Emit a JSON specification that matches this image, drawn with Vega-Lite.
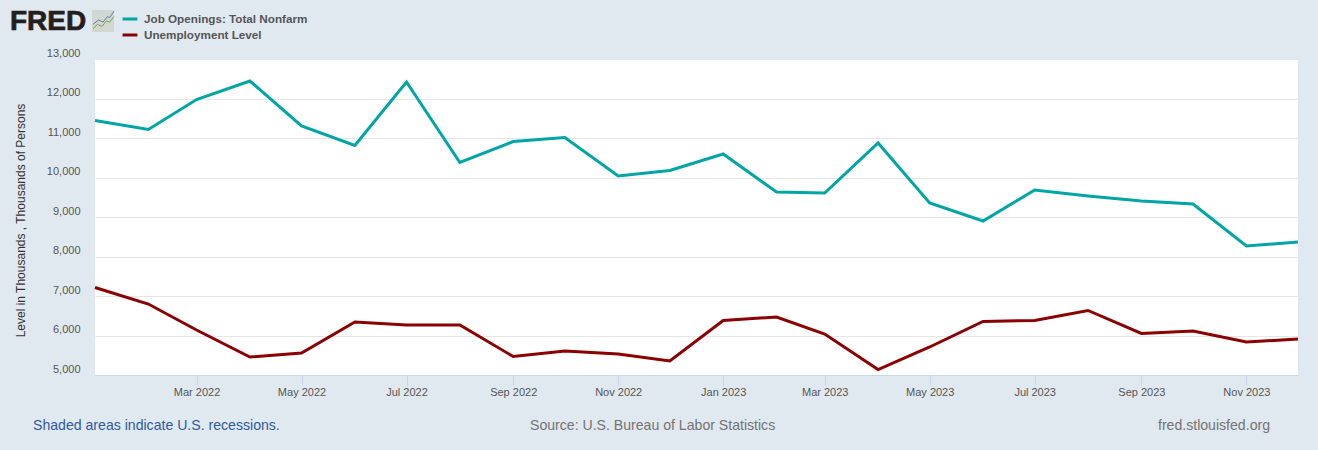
{"$schema":"https://vega.github.io/schema/vega-lite/v6.json","width":1203,"height":316,"autosize":{"type":"none"},"padding":{"left":95,"top":59,"right":20,"bottom":75},"background":"#e1e9f0","view":{"fill":"#ffffff","stroke":null},"config":{"font":"Liberation Sans"},"datasets":{"series":[
{"date":"2022-01-01","series":"Job Openings: Total Nonfarm","value":11443},{"date":"2022-02-01","series":"Job Openings: Total Nonfarm","value":11215},{"date":"2022-03-01","series":"Job Openings: Total Nonfarm","value":11975},{"date":"2022-04-01","series":"Job Openings: Total Nonfarm","value":12443},{"date":"2022-05-01","series":"Job Openings: Total Nonfarm","value":11304},{"date":"2022-06-01","series":"Job Openings: Total Nonfarm","value":10810},{"date":"2022-07-01","series":"Job Openings: Total Nonfarm","value":12418},{"date":"2022-08-01","series":"Job Openings: Total Nonfarm","value":10380},{"date":"2022-09-01","series":"Job Openings: Total Nonfarm","value":10911},{"date":"2022-10-01","series":"Job Openings: Total Nonfarm","value":11013},{"date":"2022-11-01","series":"Job Openings: Total Nonfarm","value":10038},{"date":"2022-12-01","series":"Job Openings: Total Nonfarm","value":10177},{"date":"2023-01-01","series":"Job Openings: Total Nonfarm","value":10595},{"date":"2023-02-01","series":"Job Openings: Total Nonfarm","value":9633},{"date":"2023-03-01","series":"Job Openings: Total Nonfarm","value":9608},{"date":"2023-04-01","series":"Job Openings: Total Nonfarm","value":10873},{"date":"2023-05-01","series":"Job Openings: Total Nonfarm","value":9354},{"date":"2023-06-01","series":"Job Openings: Total Nonfarm","value":8899},{"date":"2023-07-01","series":"Job Openings: Total Nonfarm","value":9684},{"date":"2023-08-01","series":"Job Openings: Total Nonfarm","value":9532},{"date":"2023-09-01","series":"Job Openings: Total Nonfarm","value":9405},{"date":"2023-10-01","series":"Job Openings: Total Nonfarm","value":9329},{"date":"2023-11-01","series":"Job Openings: Total Nonfarm","value":8266},{"date":"2023-12-01","series":"Job Openings: Total Nonfarm","value":8367},
{"date":"2022-01-01","series":"Unemployment Level","value":7215},{"date":"2022-02-01","series":"Unemployment Level","value":6797},{"date":"2022-03-01","series":"Unemployment Level","value":6140},{"date":"2022-04-01","series":"Unemployment Level","value":5456},{"date":"2022-05-01","series":"Unemployment Level","value":5557},{"date":"2022-06-01","series":"Unemployment Level","value":6342},{"date":"2022-07-01","series":"Unemployment Level","value":6266},{"date":"2022-08-01","series":"Unemployment Level","value":6266},{"date":"2022-09-01","series":"Unemployment Level","value":5468},{"date":"2022-10-01","series":"Unemployment Level","value":5608},{"date":"2022-11-01","series":"Unemployment Level","value":5532},{"date":"2022-12-01","series":"Unemployment Level","value":5354},{"date":"2023-01-01","series":"Unemployment Level","value":6380},{"date":"2023-02-01","series":"Unemployment Level","value":6468},{"date":"2023-03-01","series":"Unemployment Level","value":6038},{"date":"2023-04-01","series":"Unemployment Level","value":5139},{"date":"2023-05-01","series":"Unemployment Level","value":5709},{"date":"2023-06-01","series":"Unemployment Level","value":6354},{"date":"2023-07-01","series":"Unemployment Level","value":6380},{"date":"2023-08-01","series":"Unemployment Level","value":6633},{"date":"2023-09-01","series":"Unemployment Level","value":6051},{"date":"2023-10-01","series":"Unemployment Level","value":6114},{"date":"2023-11-01","series":"Unemployment Level","value":5835},{"date":"2023-12-01","series":"Unemployment Level","value":5911}
],"start":[{"date":"2022-01-01","value":13000}],"base":[{"date":"2022-01-01","value":5000}],"source":[{"date":"2022-11-21","value":5000}],"end":[{"date":"2023-12-01","value":5000}]},
"encoding":{
"x":{"field":"date","type":"temporal","scale":{"type":"utc","domain":[{"year":2022,"month":1,"date":1,"utc":true},{"year":2023,"month":12,"date":1,"utc":true}]},"axis":{"title":null,"grid":false,"values":[{"year":2022,"month":3,"date":1,"utc":true},{"year":2022,"month":5,"date":1,"utc":true},{"year":2022,"month":7,"date":1,"utc":true},{"year":2022,"month":9,"date":1,"utc":true},{"year":2022,"month":11,"date":1,"utc":true},{"year":2023,"month":1,"date":1,"utc":true},{"year":2023,"month":3,"date":1,"utc":true},{"year":2023,"month":5,"date":1,"utc":true},{"year":2023,"month":7,"date":1,"utc":true},{"year":2023,"month":9,"date":1,"utc":true},{"year":2023,"month":11,"date":1,"utc":true}],"format":"%b %Y","labelFontSize":11,"labelColor":"#555555","labelPadding":1,"tickSize":10,"tickColor":"#c8d6e5","tickWidth":1,"domainColor":"#c8d6e5","domainWidth":1,"labelFlush":false}},
"y":{"field":"value","type":"quantitative","scale":{"domain":[5000,13000],"nice":false,"zero":false},"axis":{"title":"Level in Thousands , Thousands of Persons","titleFontSize":12,"titleFontWeight":"normal","titleColor":"#333333","titleX":-68,"titleY":161,"values":[5000,6000,7000,8000,9000,10000,11000,12000,13000],"format":",.0f","labelFontSize":11,"labelColor":"#555555","labelPadding":15,"labelOffset":-6,"labelOverlap":false,"labelBound":false,"ticks":false,"domain":false,"gridColor":"#e6e6e6","gridWidth":1}}
},
"layer":[
{"data":{"name":"series"},"mark":{"type":"line","strokeWidth":3,"strokeCap":"butt","strokeJoin":"miter"},"encoding":{
"color":{"field":"series","type":"nominal","scale":{"domain":["Job Openings: Total Nonfarm","Unemployment Level"],"range":["#00a5a5","#8b0000"]},"legend":{"title":null,"orient":"none","legendX":26,"legendY":-49,"labelFont":"Liberation Sans","labelFontSize":11.7,"labelFontWeight":"bold","labelColor":"#555555","labelLimit":300,"symbolType":"stroke","symbolStrokeWidth":3,"symbolSize":220,"rowPadding":-1,"labelOffset":5,"padding":0}}}},
{"data":{"name":"base"},"mark":{"type":"text","text":"Shaded areas indicate U.S. recessions.","align":"left","baseline":"middle","dx":-62,"dy":51,"fontSize":14.1,"color":"#2e5a9c"}},
{"data":{"name":"source"},"mark":{"type":"text","text":"Source: U.S. Bureau of Labor Statistics","align":"center","baseline":"middle","dy":51,"fontSize":14.1,"color":"#737373"}},
{"data":{"name":"end"},"mark":{"type":"text","text":"fred.stlouisfed.org","align":"right","baseline":"middle","dx":-28,"dy":51,"fontSize":14.1,"color":"#737373"}},
{"data":{"name":"start"},"mark":{"type":"text","text":"FRED","align":"left","baseline":"alphabetic","dx":-85,"dy":-29,"fontSize":28,"fontWeight":"bold","color":"#231f20","stroke":"#231f20","strokeWidth":0.7}},
{"data":{"name":"start"},"mark":{"type":"point","filled":true,"opacity":1,"size":484,"xOffset":8,"yOffset":-38,"color":"#d3d7d2","shape":"M-0.9,-1 H0.9 Q1,-1 1,-0.9 V0.9 Q1,1 0.9,1 H-0.9 Q-1,1 -1,0.9 V-0.9 Q-1,-1 -0.9,-1 Z"}},
{"data":{"name":"start"},"mark":{"type":"point","filled":false,"opacity":1,"size":484,"xOffset":8,"yOffset":-38,"stroke":"#5b7fa8","strokeWidth":1,"shape":"M-0.9,0.3 L-0.4,-0.1 L0,0.1 L0.4,-0.4 L0.6,-0.3 L1,-0.9"}},
{"data":{"name":"start"},"mark":{"type":"point","filled":false,"opacity":1,"size":484,"xOffset":8,"yOffset":-38,"stroke":"#7f9f4f","strokeWidth":1,"shape":"M-0.9,0.7 L-0.5,0.3 L-0.1,0.5 L0.3,0 L0.6,0.1 L1,-0.4"}}
]}
